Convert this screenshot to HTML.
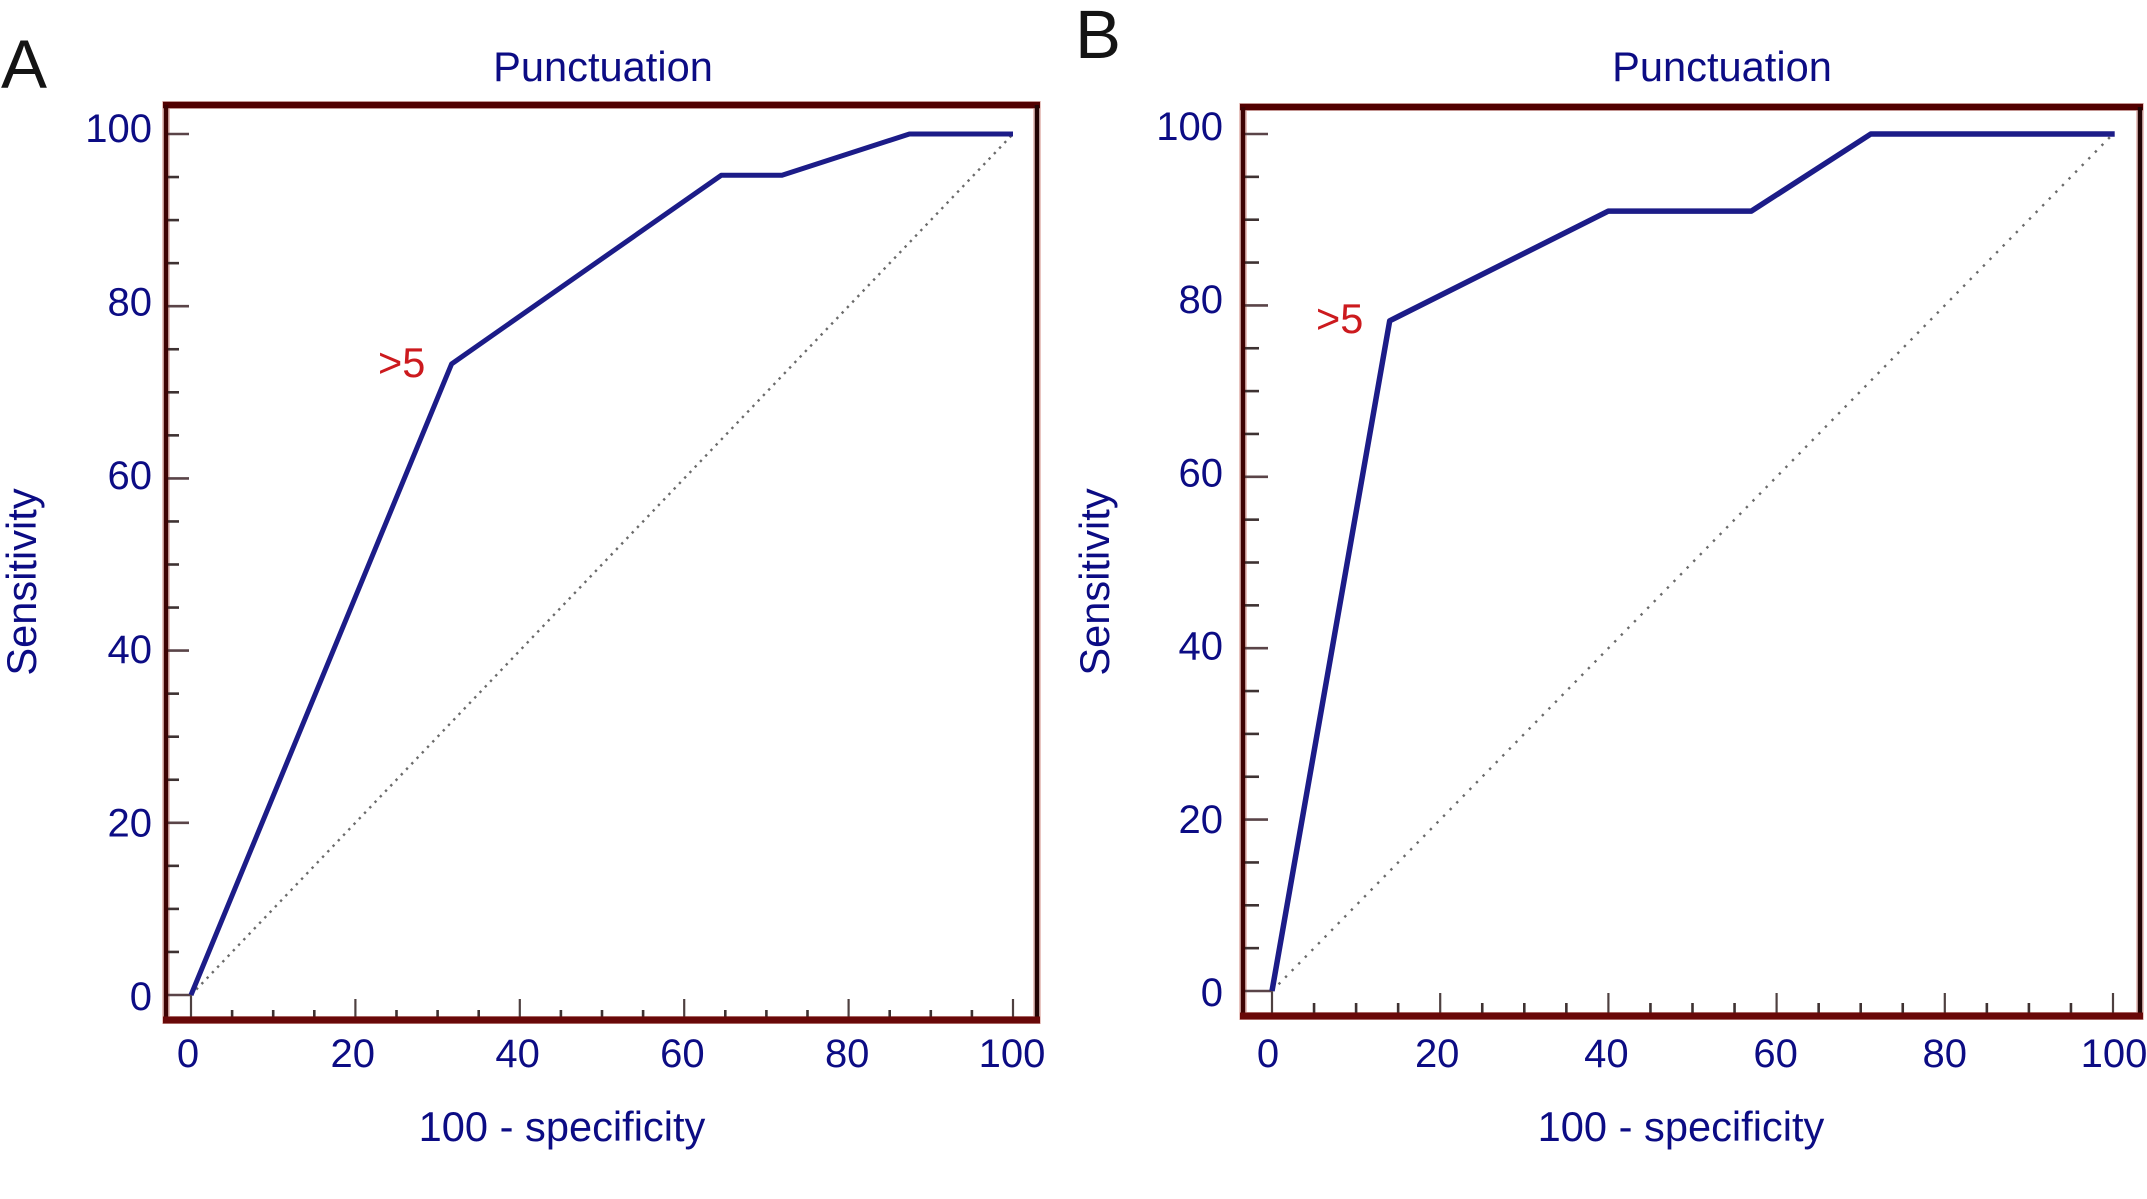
<!DOCTYPE html>
<html lang="en">
<head>
<meta charset="utf-8">
<title>Punctuation ROC curves</title>
<style>
html,body{margin:0;padding:0;background:#fff;width:2147px;height:1199px;overflow:hidden}
svg{display:block}
text{font-family:"Liberation Sans",Arial,sans-serif;fill:#0c0c84}
.panel-letter{fill:#141414;font-size:69px}
.title,.axis-title{font-size:41.6px}
.tick-label{font-size:40px}
.cut{fill:#cc1a1e;font-size:41.5px}
</style>
</head>
<body>
<svg id="chart" xmlns="http://www.w3.org/2000/svg" width="2147" height="1199" viewBox="0 0 2147 1199">
  <rect x="0" y="0" width="2147" height="1199" fill="#fff"/>

  <g id="panel-a">
    <text class="panel-letter" x="1" y="88">A</text>
    <text class="title" x="603" y="81" text-anchor="middle">Punctuation</text>
    <text class="axis-title" x="562" y="1141" text-anchor="middle">100 - specificity</text>
    <text class="axis-title" transform="translate(36 582) rotate(-90)" text-anchor="middle">Sensitivity</text>
    <text class="cut" x="378" y="377">&gt;5</text>
  </g>

  <g id="panel-b">
    <text class="panel-letter" x="1075" y="58">B</text>
    <text class="title" x="1722" y="81" text-anchor="middle">Punctuation</text>
    <text class="axis-title" x="1681" y="1141" text-anchor="middle">100 - specificity</text>
    <text class="axis-title" transform="translate(1109 582) rotate(-90)" text-anchor="middle">Sensitivity</text>
    <text class="cut" x="1316" y="333">&gt;5</text>
  </g>
</svg>

<script>
var panelAFalsePositive = [0, 31.7, 64.5, 71.9, 87.4, 100];
var panelASensitivity = [0, 73.3, 95.2, 95.2, 100, 100];
var panelBFalsePositive = [0, 14, 40, 57, 71.2, 100.2];
var panelBSensitivity = [0, 78.2, 91, 91, 100, 100];
var referenceLine = [0, 100];
var majorTicks = [0, 20, 40, 60, 80, 100];
var minorTicks = [5, 10, 15, 25, 30, 35, 45, 50, 55, 65, 70, 75, 85, 90, 95];

var SVG_NS = 'http://www.w3.org/2000/svg';

function linearScale(d0, r0, d1, r1) {
  return function (v) { return r0 + (v - d0) * (r1 - r0) / (d1 - d0); };
}

function make(tag, parent) {
  var node = document.createElementNS(SVG_NS, tag);
  parent.appendChild(node);
  return node;
}

function setLine(node, x1, y1, x2, y2, color, width) {
  node.setAttribute('x1', x1);
  node.setAttribute('y1', y1);
  node.setAttribute('x2', x2);
  node.setAttribute('y2', y2);
  node.setAttribute('stroke', color);
  node.setAttribute('stroke-width', width);
}

function drawPanel(cfg) {
  var root = document.getElementById(cfg.id);
  var x = linearScale(0, cfg.x0, 100, cfg.x100);
  var y = linearScale(0, cfg.y0, 100, cfg.y100);
  var labelX = linearScale(0, cfg.labelX0, 100, cfg.labelX100);
  var labelY = linearScale(0, cfg.labelY0, 100, cfg.labelY100);
  var f = cfg.frame;

  var halo = make('rect', root);
  
  
  halo.setAttribute('x', f.left);
  halo.setAttribute('y', f.top);
  halo.setAttribute('width', f.right - f.left);
  halo.setAttribute('height', f.bottom - f.top);
  halo.setAttribute('fill', 'none');
  halo.setAttribute('stroke', '#e8c4c0');
  halo.setAttribute('stroke-width', 8);

  minorTicks.forEach(function (v) {
    var tx = make('line', root);
    
    
    setLine(tx, x(v), f.bottom, x(v), f.bottom - cfg.minorLenX, '#3e3232', 2.6);
    var ty = make('line', root);
    
    
    setLine(ty, f.left, y(v), f.left + cfg.minorLenY, y(v), '#3e3232', 2.6);
  });

  majorTicks.forEach(function (v) {
    var tx = make('line', root);
    
    
    setLine(tx, x(v), f.bottom, x(v), v === 0 ? y(0) : f.bottom - cfg.majorLenX, '#4e4040', 2.2);
    var ty = make('line', root);
    
    
    setLine(ty, f.left, y(v), v === 0 ? x(0) : f.left + cfg.majorLenY, y(v), '#5a4448', 2.6);

    var lx = make('text', root);
    
    
    lx.setAttribute('class', 'tick-label');
    lx.setAttribute('x', labelX(v));
    lx.setAttribute('y', 1067);
    lx.setAttribute('text-anchor', 'middle');
    lx.textContent = String(v);

    var ly = make('text', root);
    
    
    ly.setAttribute('class', 'tick-label');
    ly.setAttribute('x', cfg.labelRight);
    ly.setAttribute('y', labelY(v));
    ly.setAttribute('text-anchor', 'end');
    ly.textContent = String(v);
  });

  var diag = make('line', root);
  
  
  setLine(diag, x(referenceLine[0]), y(referenceLine[0]), x(referenceLine[1]), y(referenceLine[1]), '#6a6a6a', 2.4);
  diag.setAttribute('stroke-dasharray', cfg.dash);

  var curve = make('polyline', root);
  
  
  curve.setAttribute('points', cfg.fpr.map(function (v, i) {
    return x(v).toFixed(1) + ',' + y(cfg.sens[i]).toFixed(1);
  }).join(' '));
  curve.setAttribute('fill', 'none');
  curve.setAttribute('stroke', '#1c1c88');
  curve.setAttribute('stroke-width', cfg.curveWidth);
  curve.setAttribute('stroke-linejoin', 'round');

  var top = make('line', root);
  
  
  setLine(top, f.left - 3, f.top, f.right + 3, f.top, '#520000', 6.5);
  var left = make('line', root);
  
  
  setLine(left, f.left, f.top, f.left, f.bottom, '#3e0303', 4.5);
  var right = make('line', root);
  
  
  setLine(right, f.right, f.top, f.right, f.bottom, '#220404', 4.5);
  var bottom = make('line', root);
  
  
  setLine(bottom, f.left - 3, f.bottom, f.right + 3, f.bottom, '#690808', 7);
}

drawPanel({
  id: 'panel-a',
  fpr: panelAFalsePositive,
  sens: panelASensitivity,
  x0: 191, x100: 1013,
  y0: 995, y100: 134,
  labelX0: 188, labelX100: 1012,
  labelY0: 1010, labelY100: 142,
  labelRight: 152,
  frame: { left: 166, top: 105, right: 1037, bottom: 1020 },
  majorLenX: 21, minorLenX: 10,
  majorLenY: 23, minorLenY: 13,
  curveWidth: 5,
  dash: '2.4 5.2'
});

drawPanel({
  id: 'panel-b',
  fpr: panelBFalsePositive,
  sens: panelBSensitivity,
  x0: 1272, x100: 2113,
  y0: 991, y100: 134,
  labelX0: 1268, labelX100: 2114,
  labelY0: 1006, labelY100: 140,
  labelRight: 1223,
  frame: { left: 1243, top: 107, right: 2140, bottom: 1016 },
  majorLenX: 23, minorLenX: 13,
  majorLenY: 25, minorLenY: 16,
  curveWidth: 5.5,
  dash: '2.4 7'
});
</script>
</body>
</html>
